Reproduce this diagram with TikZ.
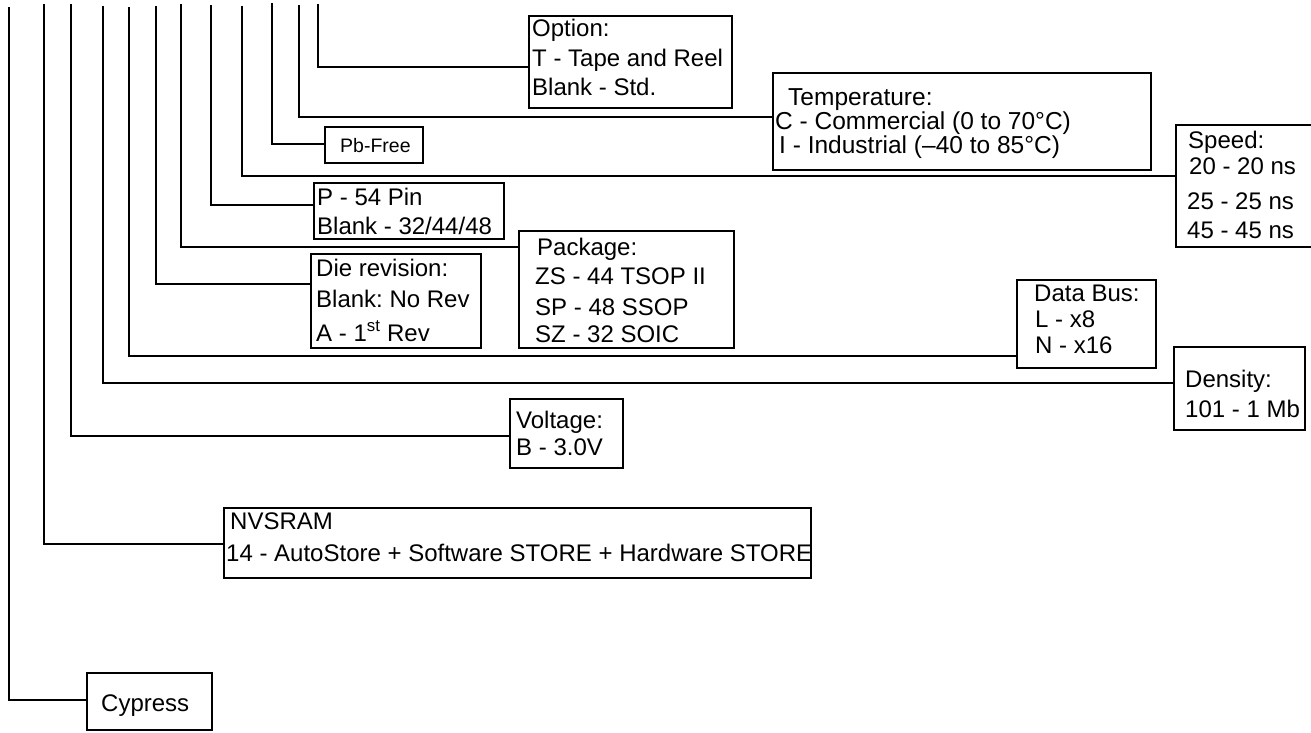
\documentclass[tikz,border=0pt]{standalone}
\usepackage{fontspec}
\setmainfont{Liberation Sans}
\frenchspacing
\begin{document}
\begin{tikzpicture}[x=1pt,y=-1pt,
  box/.style={draw, line width=1.6pt, inner sep=0pt, outer sep=0pt, anchor=north west},
  conn/.style={line width=1.6pt},
  txt/.style={anchor=base west, inner sep=0pt, font=\fontsize{24}{28}\selectfont},
  tmptxt/.style={anchor=base west, inner sep=0pt, text height=17pt, text depth=4pt, font=\fontsize{24.5}{28}\selectfont},
  small/.style={anchor=base west, inner sep=0pt, font=\fontsize{19.5}{22}\selectfont}]
\useasboundingbox (0,0) rectangle (1311,732);
% boxes
\node[box, minimum width=203pt, minimum height=92pt] (opt) at (529,16) {};
\node[box, minimum width=378pt, minimum height=97pt] (tmp) at (773,73) {};
\node[box, minimum width=98pt, minimum height=36pt] (pb) at (325,127) {};
\node[box, minimum width=144pt, minimum height=122pt] (spd) at (1176,125) {};
\node[box, minimum width=190pt, minimum height=56pt] (pin) at (314,183) {};
\node[box, minimum width=215pt, minimum height=117pt] (pkg) at (519,231) {};
\node[box, minimum width=170pt, minimum height=94pt] (die) at (311,254) {};
\node[box, minimum width=139pt, minimum height=88pt] (bus) at (1017,280) {};
\node[box, minimum width=131pt, minimum height=83pt] (den) at (1174,347) {};
\node[box, minimum width=113pt, minimum height=69pt] (vol) at (510,399) {};
\node[box, minimum width=587pt, minimum height=70pt] (nvs) at (224,508) {};
\node[box, minimum width=125pt, minimum height=57pt] (cyp) at (87,673) {};
% texts
\node[txt] (opt1) at (532,36) {Option:};
\node[txt] (opt2) at (532,66) {T - Tape and Reel};
\node[txt] (opt3) at (532,95) {Blank - Std.};
\node[tmptxt] (tmp1) at (788,105) {Temperature:};
\node[tmptxt] (tmp2) at (775,129) {C - Commercial (0 to 70°C)};
\node[tmptxt] (tmp3) at (779,153) {I - Industrial (\textendash40 to 85°C)};
\node[small] (pb1) at (340,152) {Pb-Free};
\node[txt] (spd1) at (1188,148) {Speed:};
\node[txt] (spd2) at (1189,174) {20 - 20 ns};
\node[txt] (spd3) at (1187,209) {25 - 25 ns};
\node[txt] (spd4) at (1187,238) {45 - 45 ns};
\node[txt] (pin1) at (317,205) {P - 54 Pin};
\node[txt] (pin2) at (317,234) {Blank - 32/44/48};
\node[txt] (die1) at (316,276) {Die revision:};
\node[txt] (die2) at (316,307) {Blank: No Rev};
\node[txt] (die3) at (316,341) {A - 1\textsuperscript{st} Rev};
\node[txt] (pkg1) at (537,255) {Package:};
\node[txt] (pkg2) at (535,284) {ZS - 44 TSOP II};
\node[txt] (pkg3) at (535,315) {SP - 48 SSOP};
\node[txt] (pkg4) at (535,342) {SZ - 32 SOIC};
\node[txt] (bus1) at (1034,301) {Data Bus:};
\node[txt] (bus2) at (1035,327) {L - x8};
\node[txt] (bus3) at (1035,353) {N - x16};
\node[txt] (den1) at (1185,387) {Density:};
\node[txt] (den2) at (1185,417) {101 - 1 Mb};
\node[txt] (vol1) at (516,428) {Voltage:};
\node[txt] (vol2) at (516,455) {B - 3.0V};
\node[txt] (nvs1) at (230,529) {NVSRAM};
\node[txt] (nvs2) at (226,561) {14 - AutoStore + Software STORE + Hardware STORE};
\node[txt] (cyp1) at (101,711) {Cypress};
% line tops
\coordinate (t1) at (9,7);
\coordinate (t2) at (44,4);
\coordinate (t3) at (71,4);
\coordinate (t4) at (103,6);
\coordinate (t5) at (129,7);
\coordinate (t6) at (156,6);
\coordinate (t7) at (181,4);
\coordinate (t8) at (211,5);
\coordinate (t9) at (242,6);
\coordinate (t10) at (272,3);
\coordinate (t11) at (299,5);
\coordinate (t12) at (318,4);
% connectors
\draw[conn] (t1) |- ([yshift=-27pt]cyp.north west);
\draw[conn] (t2) |- ([yshift=-36pt]nvs.north west);
\draw[conn] (t3) |- ([yshift=-37pt]vol.north west);
\draw[conn] (t4) |- ([yshift=-36pt]den.north west);
\draw[conn] (t5) |- ([yshift=-76pt]bus.north west);
\draw[conn] (t6) |- ([yshift=-30pt]die.north west);
\draw[conn] (t7) |- ([yshift=-16pt]pkg.north west);
\draw[conn] (t8) |- ([yshift=-22pt]pin.north west);
\draw[conn] (t9) |- ([yshift=-51pt]spd.north west);
\draw[conn] (t10) |- ([yshift=-17pt]pb.north west);
\draw[conn] (t11) |- ([yshift=-44pt]tmp.north west);
\draw[conn] (t12) |- ([yshift=-51pt]opt.north west);
\end{tikzpicture}
\end{document}
